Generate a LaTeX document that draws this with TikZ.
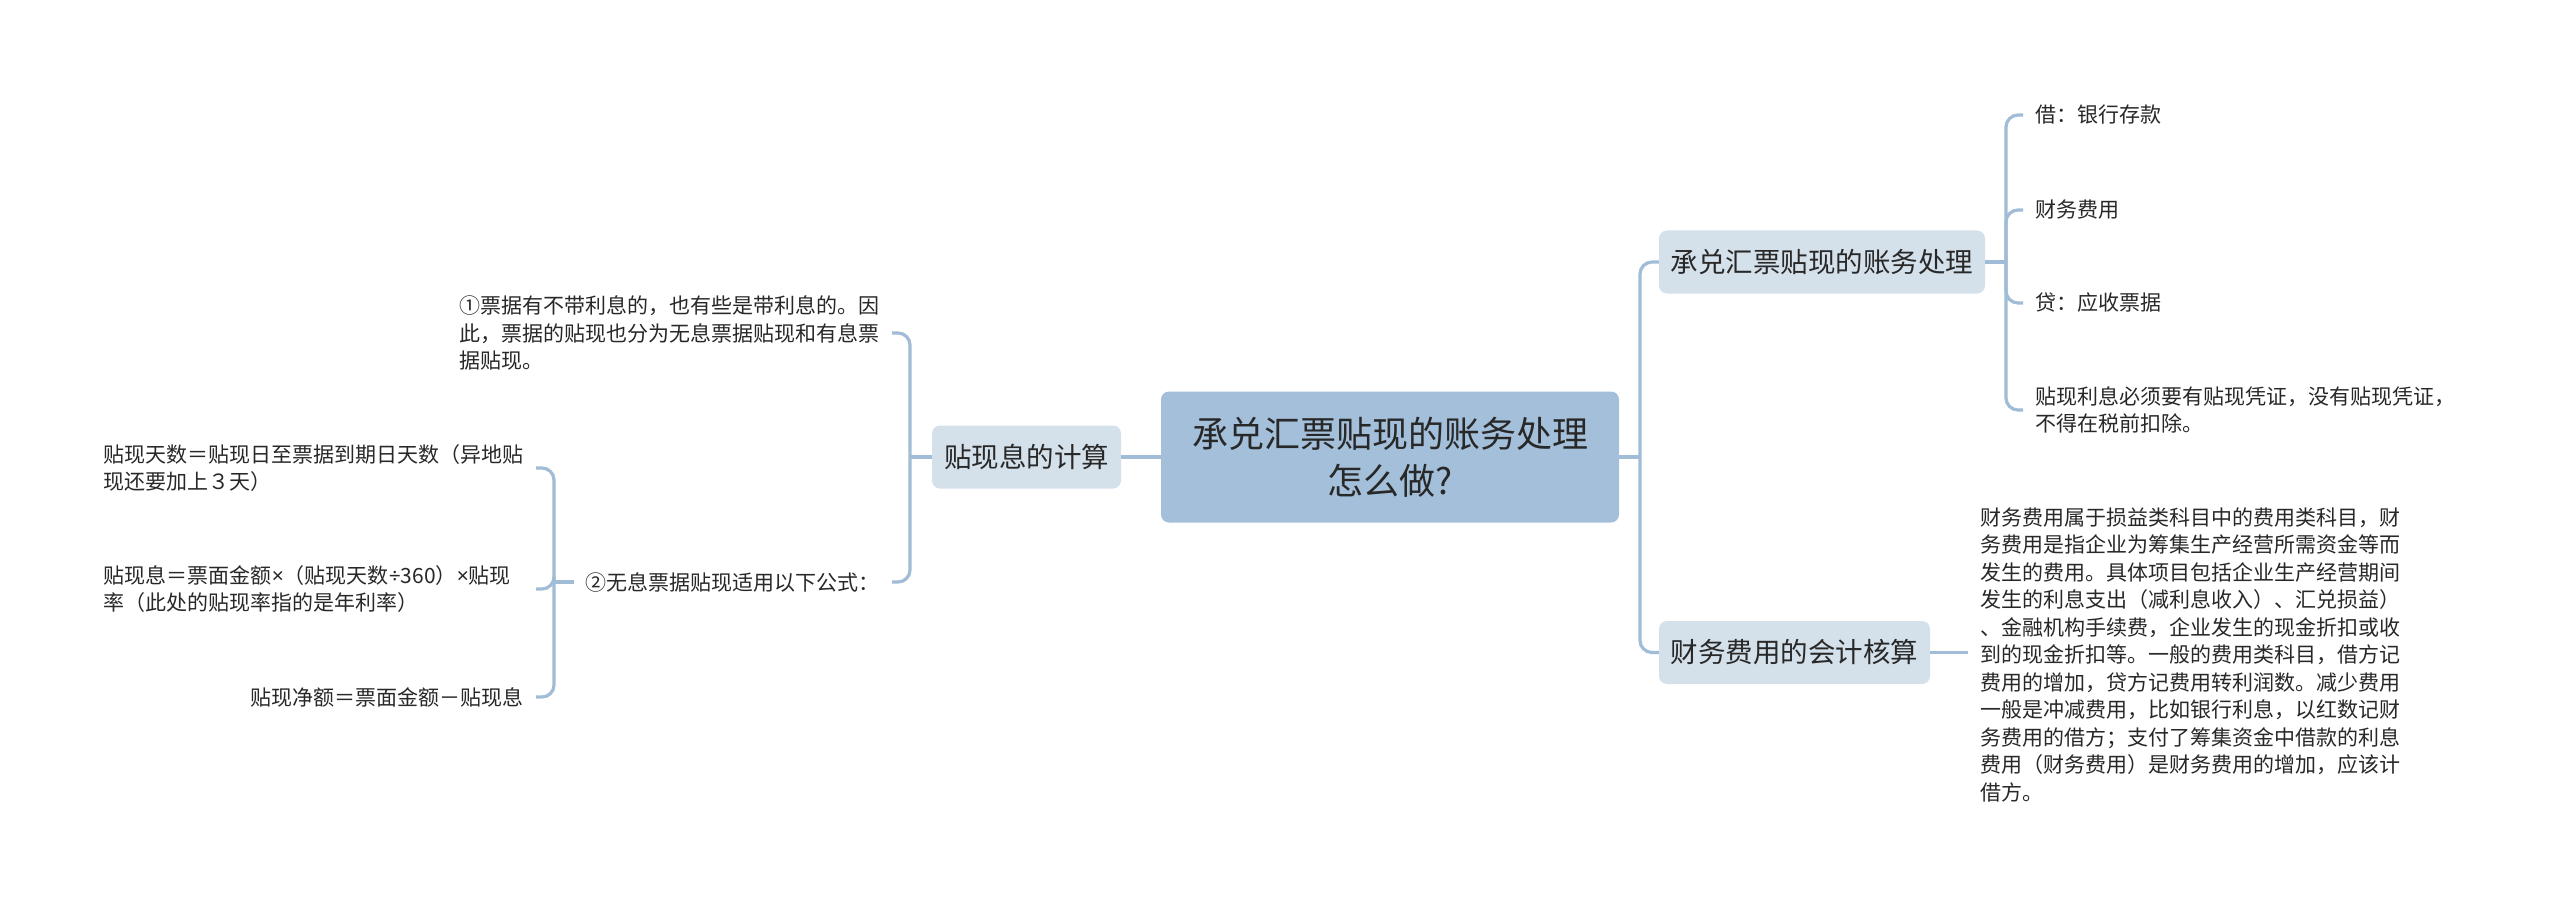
\documentclass[tikz,border=0pt]{standalone}
\usepackage{fontspec}
\setmainfont{Noto Sans CJK SC}
\newfontfamily\latinfont{Noto Sans}
\definecolor{rootfill}{RGB}{163,191,218}
\definecolor{subfill}{RGB}{212,224,234}
\definecolor{linecol}{RGB}{160,188,214}
\definecolor{txt}{RGB}{40,40,40}
\tikzset{
  rootbox/.style={fill=rootfill, rounded corners=8pt, minimum width=458pt, minimum height=131pt, align=center, text=txt, font=\fontsize{36}{47}\selectfont, inner sep=0pt},
  subbox/.style={fill=subfill, rounded corners=8pt, minimum height=63pt, text=txt, font=\fontsize{27.5}{32}\selectfont, inner xsep=10pt, inner ysep=0pt},
  leaf/.style={text=txt, font=\fontsize{21}{27.5}\selectfont, inner xsep=12pt, inner ysep=2pt, align=left},
  wide/.style={text width=420pt},
  conn/.style={draw=linecol, line width=3.2pt, rounded corners=12pt},
}
\begin{document}
\begin{tikzpicture}[x=1pt,y=-1pt]
\useasboundingbox (0,0) rectangle (2560,904);
\fill[white] (0,0) rectangle (2560,904);

\node[rootbox] (root) at (1390,457) {承兑汇票贴现的账务处理\\怎么做?};
\node[subbox, minimum width=326pt] (c1) at (1822,262) {承兑汇票贴现的账务处理};
\node[subbox, minimum width=271pt] (c2) at (1794.5,652.5) {财务费用的会计核算};
\node[subbox, minimum width=189pt] (c3) at (1026.5,457) {贴现息的计算};

% right leaves of c1
\node[leaf, anchor=west] (l1) at (2023,115) {借：银行存款};
\node[leaf, anchor=west] (l2) at (2023,210) {财务费用};
\node[leaf, anchor=west] (l3) at (2023,303) {贷：应收票据};
\node[leaf, anchor=west] (l4) at (2023,410) {贴现利息必须要有贴现凭证，没有贴现凭证，\\不得在税前扣除。};

% leaf of c2
\node[leaf, anchor=west] (l5) at (1968,655) {财务费用属于损益类科目中的费用类科目，财\\务费用是指企业为筹集生产经营所需资金等而\\发生的费用。具体项目包括企业生产经营期间\\发生的利息支出（减利息收入）、汇兑损益）\\、金融机构手续费，企业发生的现金折扣或收\\到的现金折扣等。一般的费用类科目，借方记\\费用的增加，贷方记费用转利润数。减少费用\\一般是冲减费用，比如银行利息，以红数记财\\务费用的借方；支付了筹集资金中借款的利息\\费用（财务费用）是财务费用的增加，应该计\\借方。};

% left leaves of c3
\node[leaf, wide, anchor=east] (m1) at (892,333) {①票据有不带利息的，也有些是带利息的。因\\此，票据的贴现也分为无息票据贴现和有息票\\据贴现。};
\node[leaf, anchor=east] (m2) at (892,582) {②无息票据贴现适用以下公式：};

% leaves of m2
\node[leaf, wide, anchor=east] (n1) at (536,468) {贴现天数＝贴现日至票据到期日天数（异地贴\\现还要加上３天）};
\node[leaf, wide, anchor=east] (n2) at (536,589) {贴现息＝票面金额{\latinfont ×}（贴现天数{\latinfont ÷}360）{\latinfont ×}贴现\\率（此处的贴现率指的是年利率）};
\node[leaf, anchor=east] (n3) at (536,697) {贴现净额＝票面金额－贴现息};

% connectors
\coordinate (rt) at (1640,457);
\draw[conn] (root.east) -- (rt);
\draw[conn] (rt) |- (c1.west);
\draw[conn] (rt) |- (c2.west);
\draw[conn] (root.west) -- (c3.east);

\coordinate (t1) at (2006,262);
\draw[conn] (c1.east) -- (t1);
\foreach \n in {l1,l2,l3,l4} \draw[conn] (t1) |- (\n.west);

\draw[conn] (c2.east) -- (c2.east -| l5.west);

\coordinate (t3) at (910,457);
\draw[conn] (c3.west) -- (t3);
\foreach \n in {m1,m2} \draw[conn] (t3) |- (\n.east);

\coordinate (t4) at (554,582);
\draw[conn] (m2.west) -- (t4);
\foreach \n in {n1,n2,n3} \draw[conn] (t4) |- (\n.east);
\end{tikzpicture}
\end{document}
